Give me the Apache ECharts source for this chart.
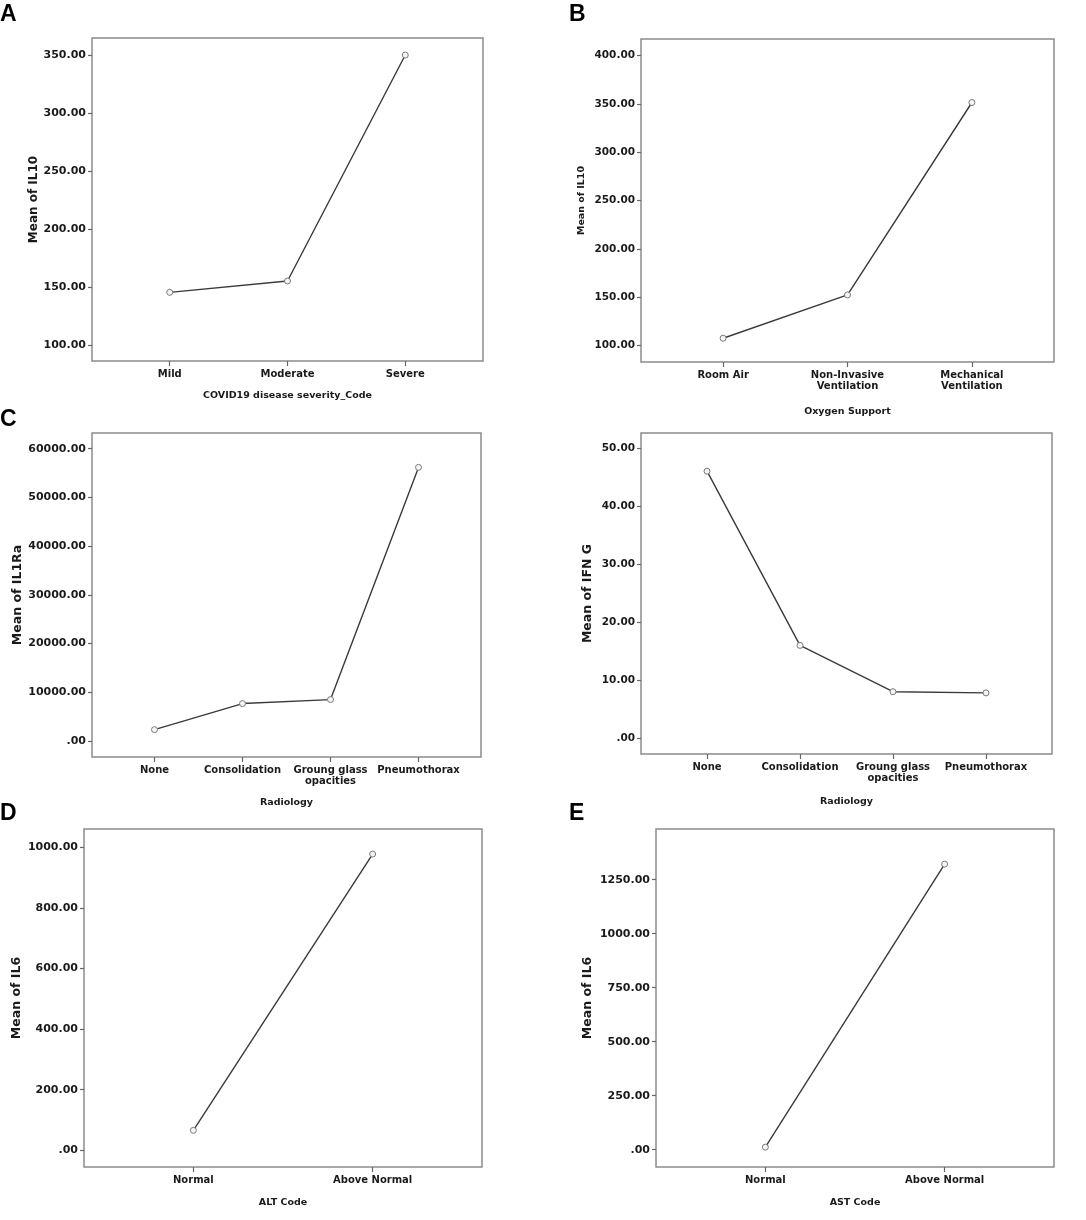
<!DOCTYPE html>
<html>
<head>
<meta charset="utf-8">
<script src="https://cdn.jsdelivr.net/npm/echarts@6/dist/echarts.min.js"></script>
<style>
  html, body { margin: 0; padding: 0; background: #fff; }
  #chart-dev { width: 1086px; height: 1220px; }
</style>
</head>
<body>
<div id="chart-dev"></div>
<script>
// categories
var severityCats = ['Mild', 'Moderate', 'Severe'];
var oxygenCats = ['Room Air', 'Non-Invasive\nVentilation', 'Mechanical\nVentilation'];
var radiologyCats = ['None', 'Consolidation', 'Groung glass\nopacities', 'Pneumothorax'];
var altCats = ['Normal', 'Above Normal'];
var astCats = ['Normal', 'Above Normal'];

// series values (means)
var il10BySeverity = [145.4, 155.2, 350.0];
var il10ByOxygen = [107.7, 152.5, 351.6];
var il1raByRadiology = [2330, 7680, 8500, 56170];
var ifngByRadiology = [46.1, 16.0, 8.0, 7.8];
var il6ByAlt = [66, 978];
var il6ByAst = [12, 1322];

// y tick labels
var ticksA = [100, 150, 200, 250, 300, 350];
var ticksB = [100, 150, 200, 250, 300, 350, 400];
var ticksC = [0, 10000, 20000, 30000, 40000, 50000, 60000];
var ticksIfn = [0, 10, 20, 30, 40, 50];
var ticksD = [0, 200, 400, 600, 800, 1000];
var ticksE = [0, 250, 500, 750, 1000, 1250];

var dom = document.getElementById('chart-dev');
var myChart = echarts.init(dom, null, { renderer: 'canvas' });

var panels = [
    { letter: 'A', lx: 0, ly: 3, grid: [92, 38, 391, 323], cats: severityCats, vals: il10BySeverity,
      ticks: ticksA, ymin: 86.2, ymax: 364.7, xpad: 0.66,
      yname: 'Mean of IL10', ynameSize: 12, ygap: 51, xname: 'COVID19 disease severity_Code', xgap: 30, ylabSize: 11 },
    { letter: 'B', lx: 569, ly: 3, grid: [641, 39, 413, 323], cats: oxygenCats, vals: il10ByOxygen,
      ticks: ticksB, ymin: 83.1, ymax: 417.3, xpad: 0.66,
      yname: 'Mean of IL10', ynameSize: 9.5, ygap: 54, xname: 'Oxygen Support', xgap: 45, ylabSize: 10.5 },
    { letter: 'C', lx: 0, ly: 408, grid: [92, 433, 389, 324], cats: radiologyCats, vals: il1raByRadiology,
      ticks: ticksC, ymin: -3290, ymax: 63230, xpad: 0.71,
      yname: 'Mean of IL1Ra', ynameSize: 12.5, ygap: 68, xname: 'Radiology', xgap: 41, ylabSize: 11 },
    { letter: '', lx: 0, ly: 0, grid: [641, 433, 411, 321], cats: radiologyCats, vals: ifngByRadiology,
      ticks: ticksIfn, ymin: -2.76, ymax: 52.7, xpad: 0.71,
      yname: 'Mean of IFN G', ynameSize: 12.5, ygap: 47, xname: 'Radiology', xgap: 43, ylabSize: 10.5 },
    { letter: 'D', lx: 0, ly: 802, grid: [84, 829, 398, 338], cats: altCats, vals: il6ByAlt,
      ticks: ticksD, ymin: -55, ymax: 1060.6, xpad: 0.61,
      yname: 'Mean of IL6', ynameSize: 12.5, ygap: 61, xname: 'ALT Code', xgap: 31, ylabSize: 11 },
    { letter: 'E', lx: 569, ly: 802, grid: [656, 829, 398, 338], cats: astCats, vals: il6ByAst,
      ticks: ticksE, ymin: -80, ymax: 1484.6, xpad: 0.61,
      yname: 'Mean of IL6', ynameSize: 12.5, ygap: 62, xname: 'AST Code', xgap: 31, ylabSize: 11 }
];

var font = 'DejaVu Sans';
var titles = [], grids = [], xAxes = [], yAxes = [], series = [];

panels.forEach(function (p, i) {
    if (p.letter) {
        titles.push({
            text: p.letter, left: p.lx, top: p.ly, padding: 0,
            textStyle: { fontFamily: 'Liberation Sans', fontSize: 23, fontWeight: 'bold', color: '#000' }
        });
    }
    grids.push({
        left: p.grid[0], top: p.grid[1], width: p.grid[2], height: p.grid[3],
        show: true, borderColor: '#8c8c8c', borderWidth: 1.5, backgroundColor: '#fff'
    });
    var idx = p.cats.map(function (c, k) { return k; });
    xAxes.push({
        type: 'value', gridIndex: i, position: 'bottom',
        min: -p.xpad, max: p.cats.length - 1 + p.xpad,
        axisLine: { show: false, onZero: false },
        splitLine: { show: false },
        axisTick: { show: true, length: 5, customValues: idx, lineStyle: { color: '#666', width: 1.2 } },
        axisLabel: {
            customValues: idx, margin: 8,
            formatter: function (v) { return p.cats[Math.round(v)]; },
            fontFamily: font, fontWeight: 'bold', fontSize: 10, lineHeight: 11, color: '#1a1a1a'
        },
        name: p.xname, nameLocation: 'middle', nameGap: p.xgap,
        nameTextStyle: { fontFamily: font, fontWeight: 'bold', fontSize: 9.5, color: '#1a1a1a' }
    });
    yAxes.push({
        type: 'value', gridIndex: i, position: 'left',
        min: p.ymin, max: p.ymax,
        axisLine: { show: false, onZero: false },
        splitLine: { show: false },
        axisTick: { show: true, length: 4, customValues: p.ticks, lineStyle: { color: '#666', width: 1.2 } },
        axisLabel: {
            customValues: p.ticks, margin: 6,
            formatter: function (v) { return v === 0 ? '.00' : v.toFixed(2); },
            fontFamily: font, fontWeight: 'bold', fontSize: p.ylabSize, color: '#1a1a1a'
        },
        name: p.yname, nameLocation: 'middle', nameGap: p.ygap, nameRotate: 90,
        nameTextStyle: { fontFamily: font, fontWeight: 'bold', fontSize: p.ynameSize, color: '#1a1a1a' }
    });
    series.push({
        type: 'line', xAxisIndex: i, yAxisIndex: i,
        data: p.vals.map(function (v, k) { return [k, v]; }),
        symbol: 'circle', symbolSize: 6, showSymbol: true, animation: false,
        lineStyle: { color: '#3a3a3a', width: 1.4 },
        itemStyle: { color: '#f4f4f4', borderColor: '#7a7a7a', borderWidth: 1 }
    });
});

var option = {
    backgroundColor: '#fff',
    title: titles,
    grid: grids,
    xAxis: xAxes,
    yAxis: yAxes,
    series: series
};

if (option && typeof option === 'object') {
    myChart.setOption(option);
}

window.addEventListener('resize', myChart.resize);
</script>
</body>
</html>
